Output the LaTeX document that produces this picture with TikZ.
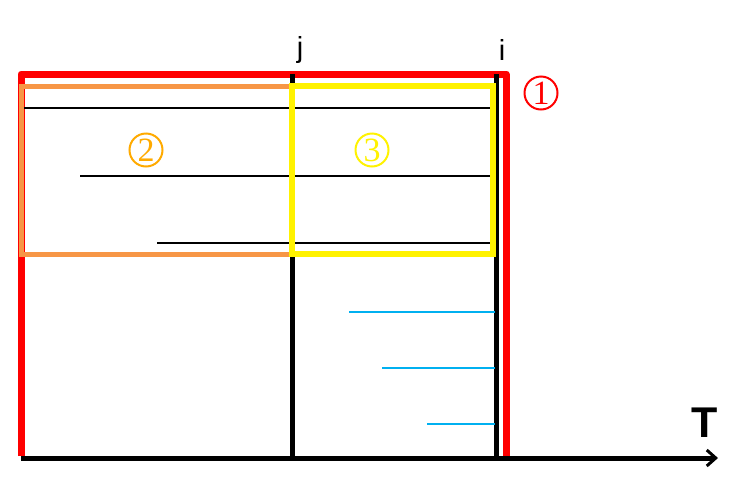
\documentclass[tikz,border=0pt]{standalone}
\usepackage{fontspec}
\setmainfont{Liberation Sans}
\newfontfamily\numfont{Liberation Serif}
\usetikzlibrary{arrows.meta}
\definecolor{boxorange}{RGB}{247,150,70}
\definecolor{numorange}{RGB}{255,170,0}
\definecolor{lineblue}{RGB}{0,176,240}
\tikzset{
    numcirc/.style={circle, draw=#1, text=#1, line width=2pt, inner sep=0pt, minimum size=33pt,
        font=\numfont\fontsize{34}{34}\selectfont},
    gridline/.style={line width=1.8pt},
    blueline/.style={lineblue, line width=2.2pt}
}
\begin{document}
\begin{tikzpicture}[x=1pt, y=-1pt]
    \useasboundingbox (0,0) rectangle (741,488);

    % axis and the two time marks
    \coordinate (O) at (21,458);
    \coordinate (Tend) at (718,458);
    \coordinate (jtop) at (292,74);
    \coordinate (jbot) at (292,458);
    \coordinate (itop) at (496,74);
    \coordinate (ibot) at (496,458);

    % frame 1
    \draw[red, line width=7pt, line join=round] (21,456) -- (21,74) -- (506,74) -- (506,456);

    \draw[line width=5pt] (jtop) -- (jbot);
    \draw[line width=5pt] (itop) -- (ibot);

    % black lines
    \draw[gridline] (22,108) -- (492,108);
    \draw[gridline] (80,176) -- (492,176);
    \draw[gridline] (157,243) -- (492,243);

    % boxes 2 and 3
    \draw[boxorange, line width=5pt] (21,86) rectangle (292,254);
    \draw[yellow, line width=6pt] (292,86) rectangle (493,254);

    % blue lines
    \foreach \x/\y in {349/312, 382/368, 427/424}
        \draw[blueline] (\x,\y) -- (495,\y);

    \draw[line width=5pt, -{Straight Barb[length=9pt, width=16pt, line width=3pt]}] (O) -- (Tend);

    \node[font=\fontsize{29}{29}\selectfont] (jlab) at (300,50) {j};
    \node[font=\fontsize{29}{29}\selectfont] (ilab) at (502,50) {i};
    \node[font=\fontsize{43}{43}\selectfont\bfseries] (tlab) at (705,423) {T};

    \node[numcirc=red] (n1) at (541,93) {1};
    \node[numcirc=numorange] (n2) at (146,150) {2};
    \node[numcirc=yellow] (n3) at (372,150) {3};
\end{tikzpicture}
\end{document}
